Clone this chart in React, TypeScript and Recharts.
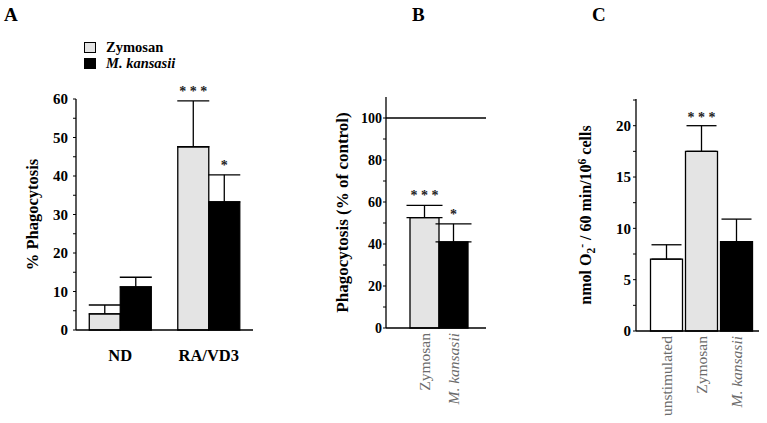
import React from "react";
import {
  BarChart,
  Bar,
  XAxis,
  YAxis,
  ErrorBar,
  LabelList,
  Cell,
  ReferenceLine,
  Legend,
  Label,
} from "recharts";

const SERIF = '"Liberation Serif", "Times New Roman", serif';
const ZYM = "#e4e4e4";
const KAN = "#000000";
const UNSTIM = "#ffffff";

// panel A: % phagocytosis, ND vs RA/VD3
const groupsA = ["ND", "RA/VD3"];
const zymosanA = [4.2, 47.6];
const zymosanErrA = [2.3, 11.9];
const kansasiiA = [11.2, 33.3];
const kansasiiErrA = [2.5, 7.0];
const zymosanSigA = ["", "* * *"];
const kansasiiSigA = ["", "*"];
const ticksA = [0, 5, 10, 15, 20, 25, 30, 35, 40, 45, 50, 55, 60];

// panel B: phagocytosis as % of control
const labelsB = ["Zymosan", "M. kansasii"];
const valuesB = [52.6, 41.0];
const errB = [5.8, 8.6];
const sigB = ["* * *", "*"];
const ticksB = [0, 10, 20, 30, 40, 50, 60, 70, 80, 90, 100];

// panel C: superoxide production
const labelsC = ["unstimulated", "Zymosan", "M. kansasii"];
const valuesC = [7.0, 17.5, 8.7];
const errC = [1.4, 2.5, 2.2];
const sigC = ["", "* * *", ""];
const ticksC = [0, 2.5, 5, 7.5, 10, 12.5, 15, 17.5, 20, 22.5];

const dataA = groupsA.map((g, i) => ({
  group: g,
  zym: zymosanA[i],
  zymErr: [0, zymosanErrA[i]],
  zymSig: zymosanSigA[i],
  kan: kansasiiA[i],
  kanErr: [0, kansasiiErrA[i]],
  kanSig: kansasiiSigA[i],
}));

const dataB = labelsB.map((l, i) => ({ name: l, value: valuesB[i], err: [0, errB[i]], sig: sigB[i] }));
const dataC = labelsC.map((l, i) => ({ name: l, value: valuesC[i], err: [0, errC[i]], sig: sigC[i] }));

const colorsB = [ZYM, KAN];
const colorsC = [UNSTIM, ZYM, KAN];

// stars sit above the error bar cap; px per unit comes from the bar itself
const starLabel = (values: number[], errs: number[], gap: number) => (props: any) => {
  const { x, y, width, height, index, value } = props;
  if (!value) return null;
  const pxPerUnit = Number(height) / values[index];
  const top = Number(y) - errs[index] * pxPerUnit;
  return (
    <text
      x={Number(x) + Number(width) / 2}
      y={top - gap}
      textAnchor="middle"
      fontFamily={SERIF}
      fontSize={14}
      fontWeight="bold"
      fill="#222"
    >
      {value}
    </text>
  );
};

const RotatedTick = (props: any) => {
  const { x, y, payload } = props;
  const italic = String(payload.value).startsWith("M.");
  return (
    <text
      x={x}
      y={y}
      dy="0.33em"
      transform={`rotate(-90, ${x}, ${y})`}
      textAnchor="end"
      fontFamily={SERIF}
      fontSize={15.5}
      fontStyle={italic ? "italic" : "normal"}
      fill="#6b6b6b"
    >
      {payload.value}
    </text>
  );
};

const yTitle = (dx: number, size: number, body: React.ReactNode) => (props: any) => {
  const vb = props.viewBox;
  const cx = vb.x + dx;
  const cy = vb.y + vb.height / 2;
  return (
    <text
      x={cx}
      y={cy}
      dy="0.35em"
      transform={`rotate(-90, ${cx}, ${cy})`}
      textAnchor="middle"
      fontFamily={SERIF}
      fontSize={size}
      fontWeight="bold"
      fill="#000"
    >
      {body}
    </text>
  );
};

const LegendA = () => (
  <div style={{ fontFamily: SERIF, fontSize: 14.5, fontWeight: "bold" }}>
    {[
      { name: "Zymosan", color: ZYM, italic: false },
      { name: "M. kansasii", color: KAN, italic: true },
    ].map((s) => (
      <div key={s.name} style={{ display: "flex", alignItems: "center", height: 16, lineHeight: "16px" }}>
        <span
          style={{
            display: "inline-block",
            width: 10,
            height: 9,
            background: s.color,
            border: "1px solid #000",
            marginRight: 10,
          }}
        />
        <span style={{ fontStyle: s.italic ? "italic" : "normal" }}>{s.name}</span>
      </div>
    ))}
  </div>
);

const axisStyle = { stroke: "#000", strokeWidth: 1.3 };

const Letter = ({ ch, left }: { ch: string; left: number }) => (
  <div
    style={{
      position: "absolute",
      left,
      top: 5,
      fontFamily: SERIF,
      fontWeight: "bold",
      fontSize: 19,
      lineHeight: "20px",
    }}
  >
    {ch}
  </div>
);

export default function App() {
  return (
    <div style={{ position: "absolute", left: 0, top: 0, width: 767, height: 423, background: "#fff" }}>
      <Letter ch="A" left={4} />
      <Letter ch="B" left={412} />
      <Letter ch="C" left={592} />

      <div style={{ position: "absolute", left: 0, top: 0 }}>
        <BarChart
          width={270}
          height={423}
          data={dataA}
          margin={{ top: 99, right: 17, bottom: 53, left: 26 }}
          barCategoryGap="15%"
          barGap={0}
        >
          <XAxis
            dataKey="group"
            height={40}
            tickLine={false}
            tickSize={0}
            tickMargin={19}
            axisLine={axisStyle}
            tick={{ fill: "#000", fontFamily: SERIF, fontSize: 16.5, fontWeight: "bold" }}
          />
          <YAxis
            width={50}
            domain={[0, 60]}
            ticks={ticksA}
            interval={0}
            tickSize={3}
            tickMargin={5}
            axisLine={axisStyle}
            tickLine={{ stroke: "#000" }}
            tickFormatter={(v: number) => (v % 10 === 0 ? String(v) : "")}
            tick={{ fill: "#000", fontFamily: SERIF, fontSize: 15, fontWeight: "bold" }}
          >
            <Label content={yTitle(6, 16.5, "% Phagocytosis")} />
          </YAxis>
          <Legend
            layout="horizontal"
            verticalAlign="middle"
            align="center"
            content={LegendA}
            wrapperStyle={{ top: 39, left: 84, width: "auto" }}
          />
          <Bar dataKey="zym" fill={ZYM} stroke="#000" strokeWidth={1.3} isAnimationActive={false}>
            <ErrorBar dataKey="zymErr" width={16} stroke="#000" strokeWidth={1.3} direction="y" />
            <LabelList dataKey="zymSig" content={starLabel(zymosanA, zymosanErrA, 5)} />
          </Bar>
          <Bar dataKey="kan" fill={KAN} stroke="#000" strokeWidth={1.3} isAnimationActive={false}>
            <ErrorBar dataKey="kanErr" width={16} stroke="#000" strokeWidth={1.3} direction="y" />
            <LabelList dataKey="kanSig" content={starLabel(kansasiiA, kansasiiErrA, 5)} />
          </Bar>
        </BarChart>
      </div>

      <div style={{ position: "absolute", left: 300, top: 0 }}>
        <BarChart
          width={200}
          height={423}
          data={dataB}
          margin={{ top: 97, right: 14, bottom: 15, left: 36 }}
          barCategoryGap={0}
        >
          <XAxis
            dataKey="name"
            height={80}
            tickLine={false}
            tickSize={0}
            tickMargin={5}
            interval={0}
            padding={{ left: 24, right: 18 }}
            axisLine={axisStyle}
            tick={<RotatedTick />}
          />
          <YAxis
            width={50}
            domain={[0, 110]}
            ticks={ticksB}
            interval={0}
            tickSize={3}
            tickMargin={1}
            axisLine={axisStyle}
            tickLine={{ stroke: "#000" }}
            tickFormatter={(v: number) => (v % 20 === 0 ? String(v) : "")}
            tick={{ fill: "#000", fontFamily: SERIF, fontSize: 14, fontWeight: "bold" }}
          >
            <Label content={yTitle(6, 17, "Phagocytosis (% of control)")} />
          </YAxis>
          <ReferenceLine y={100} stroke="#000" strokeWidth={1.5} />
          <Bar dataKey="value" stroke="#000" strokeWidth={1.3} isAnimationActive={false}>
            {dataB.map((d, i) => (
              <Cell key={d.name} fill={colorsB[i]} />
            ))}
            <ErrorBar dataKey="err" width={18} stroke="#000" strokeWidth={1.3} direction="y" />
            <LabelList dataKey="sig" content={starLabel(valuesB, errB, 5)} />
          </Bar>
        </BarChart>
      </div>

      <div style={{ position: "absolute", left: 560, top: 0 }}>
        <BarChart
          width={207}
          height={423}
          data={dataC}
          margin={{ top: 99, right: 8, bottom: 12, left: 26 }}
          barCategoryGap={1.5}
        >
          <XAxis
            dataKey="name"
            height={80}
            tickLine={false}
            tickSize={0}
            tickMargin={5}
            interval={0}
            padding={{ left: 13, right: 5 }}
            axisLine={axisStyle}
            tick={<RotatedTick />}
          />
          <YAxis
            width={50}
            domain={[0, 22.6]}
            ticks={ticksC}
            interval={0}
            tickSize={3}
            tickMargin={2}
            axisLine={axisStyle}
            tickLine={{ stroke: "#000" }}
            tickFormatter={(v: number) => (v % 5 === 0 ? String(v) : "")}
            tick={{ fill: "#000", fontFamily: SERIF, fontSize: 15, fontWeight: "bold" }}
          >
            <Label
              content={yTitle(
                -1,
                16,
                <>
                  nmol O
                  <tspan dy={4} fontSize={11.5}>2</tspan>
                  <tspan dy={-9} fontSize={11.5}>-</tspan>
                  <tspan dy={5}> / 60 min/10</tspan>
                  <tspan dy={-5} fontSize={11.5}>6</tspan>
                  <tspan dy={5}> cells</tspan>
                </>
              )}
            />
          </YAxis>
          <Bar dataKey="value" stroke="#000" strokeWidth={1.3} isAnimationActive={false}>
            {dataC.map((d, i) => (
              <Cell key={d.name} fill={colorsC[i]} />
            ))}
            <ErrorBar dataKey="err" width={15} stroke="#000" strokeWidth={1.3} direction="y" />
            <LabelList dataKey="sig" content={starLabel(valuesC, errC, 4)} />
          </Bar>
        </BarChart>
      </div>
    </div>
  );
}
